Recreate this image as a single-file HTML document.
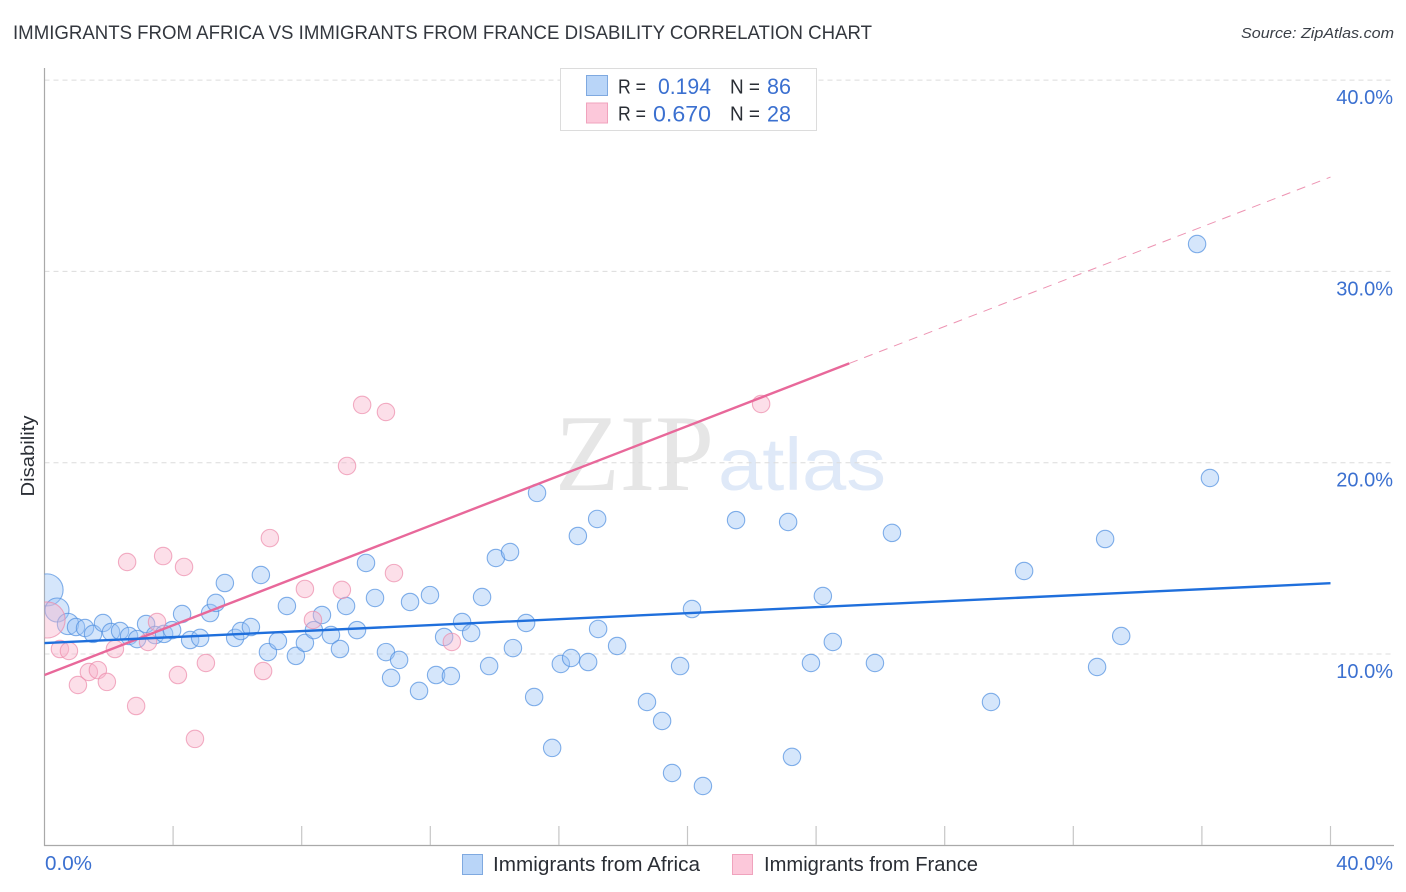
<!DOCTYPE html>
<html lang="en">
<head>
<meta charset="utf-8">
<title>Immigrants from Africa vs Immigrants from France Disability Correlation Chart</title>
<style>
html,body{margin:0;padding:0;background:#fff;width:1406px;height:892px;overflow:hidden}
svg{display:block;font-family:"Liberation Sans",sans-serif}
</style>
</head>
<body>
<svg id="chart" xmlns="http://www.w3.org/2000/svg" width="1406" height="892" viewBox="0 0 1406 892">
  <defs>
    <clipPath id="plot-clip"><rect x="44.5" y="68" width="1350" height="778"/></clipPath>
  </defs>
  <text x="13" y="39" font-size="19.5" fill="#33373e" textLength="859" lengthAdjust="spacingAndGlyphs">IMMIGRANTS FROM AFRICA VS IMMIGRANTS FROM FRANCE DISABILITY CORRELATION CHART</text>
  <text x="1241" y="38" font-size="15" font-style="italic" fill="#3a3f47" textLength="153" lengthAdjust="spacingAndGlyphs">Source: ZipAtlas.com</text>

  <g>
    <text x="555" y="490" font-family="'Liberation Serif',serif" font-size="109" fill="#e6e6e6" textLength="159" lengthAdjust="spacingAndGlyphs">ZIP</text>
    <text x="718" y="490" font-size="74" fill="#dfe9f8" textLength="168" lengthAdjust="spacingAndGlyphs">atlas</text>
  </g>

  <g id="grid"></g>
  <g id="axes"></g>
  <g id="marks" clip-path="url(#plot-clip)"></g>

  <g>
    <rect x="560.5" y="68.5" width="256" height="62" fill="#fff" stroke="#dcdcdc"/>
    <rect x="586.5" y="75.5" width="21" height="20" fill="#b9d5f8" stroke="#7fa9e0"/>
    <rect x="586.5" y="103" width="21" height="20" fill="#fcc8da" stroke="#f0a3bd"/>
    <g font-size="20" fill="#2a2e35">
      <text x="618" y="93.5" textLength="28" lengthAdjust="spacingAndGlyphs">R =</text>
      <text x="730" y="93.5" textLength="30" lengthAdjust="spacingAndGlyphs">N =</text>
      <text x="618" y="120.5" textLength="28" lengthAdjust="spacingAndGlyphs">R =</text>
      <text x="730" y="120.5" textLength="30" lengthAdjust="spacingAndGlyphs">N =</text>
    </g>
    <g font-size="22" fill="#3b70d0">
      <text x="658" y="94" textLength="53" lengthAdjust="spacingAndGlyphs">0.194</text>
      <text x="767" y="94" textLength="24" lengthAdjust="spacingAndGlyphs">86</text>
      <text x="653" y="121.5" textLength="58" lengthAdjust="spacingAndGlyphs">0.670</text>
      <text x="767" y="121.5" textLength="24" lengthAdjust="spacingAndGlyphs">28</text>
    </g>
  </g>

  <text transform="translate(34,456) rotate(-90)" font-size="18.5" fill="#2a2e35" text-anchor="middle" textLength="81" lengthAdjust="spacingAndGlyphs">Disability</text>

  <g>
    <rect x="462.5" y="854.5" width="20" height="20" fill="#b9d5f8" stroke="#7fa9e0"/>
    <text x="493" y="871" font-size="20" fill="#2a2e35" textLength="207" lengthAdjust="spacingAndGlyphs">Immigrants from Africa</text>
    <rect x="732.5" y="854.5" width="20" height="20" fill="#fcc8da" stroke="#f0a3bd"/>
    <text x="764" y="871" font-size="20" fill="#2a2e35" textLength="214" lengthAdjust="spacingAndGlyphs">Immigrants from France</text>
  </g>
</svg>

<script>
const yTicks = [10, 20, 30, 40];
const yTickLabels = ["10.0%", "20.0%", "30.0%", "40.0%"];
const xTicks = [0, 4, 8, 12, 16, 20, 24, 28, 32, 36, 40];
const xEndLabels = ["0.0%", "40.0%"];

const africaX = [0.08,0.39,0.73,0.98,1.26,1.51,1.82,2.07,2.35,2.63,2.88,3.16,3.44,3.72,3.97,4.28,4.53,4.84,5.15,5.33,5.61,5.93,6.11,6.42,6.73,6.95,7.26,7.54,7.82,8.10,8.38,8.63,8.91,9.19,9.38,9.72,10.00,10.28,10.62,10.78,11.03,11.37,11.65,11.99,12.18,12.43,12.64,12.99,13.27,13.61,13.83,14.04,14.48,14.57,14.98,15.23,15.32,15.79,16.06,16.38,16.59,16.91,17.19,17.22,17.81,18.74,19.21,19.52,19.77,20.14,20.48,21.51,23.13,23.25,23.84,24.21,24.52,25.83,26.36,29.44,30.47,32.74,32.99,33.49,35.85,36.25];
const africaY = [13.35,12.30,11.57,11.41,11.36,11.05,11.62,11.15,11.20,10.94,10.78,11.57,10.99,11.05,11.25,12.09,10.73,10.84,12.14,12.67,13.71,10.84,11.20,11.41,14.13,10.10,10.68,12.51,9.90,10.58,11.25,12.04,10.99,10.26,12.51,11.25,14.76,12.93,10.10,8.75,9.69,12.72,8.07,13.08,8.90,10.89,8.85,11.67,11.10,12.98,9.37,15.02,15.33,10.31,11.62,7.75,18.42,5.09,9.48,9.79,16.17,9.58,17.06,11.31,10.42,7.49,6.50,3.78,9.37,12.35,3.10,17.00,16.90,4.62,9.53,13.03,10.63,9.53,16.33,7.49,14.34,9.32,16.01,10.94,31.43,19.20];
const africaWeight = [3.4, 1.9, 1.5];

const franceX = [0.08,0.48,0.76,1.04,1.38,1.66,1.94,2.19,2.57,2.85,3.22,3.50,3.69,4.15,4.34,4.68,5.02,6.80,7.01,8.10,8.35,9.25,9.41,9.88,10.62,10.87,12.67,22.29];
const franceY = [11.78,10.26,10.16,8.38,9.06,9.16,8.54,10.26,14.81,7.28,10.63,11.67,15.12,8.90,14.55,5.56,9.53,9.11,16.06,13.40,11.78,13.35,19.83,23.02,22.65,14.23,10.63,23.07];
const franceWeight = [4.3];

const africaTrendX = [0, 40];
const africaTrendY = [10.57, 13.70];
const franceTrendX = [0, 25.03];
const franceTrendY = [8.90, 25.19];
const franceDashX = [25.03, 40];
const franceDashY = [25.19, 34.93];

const SVGNS = "http://www.w3.org/2000/svg";
const xScale = v => 44.5 + v * 32.15;
const yScale = v => 654 - (v - 10) * 19.13;
const BASE_R = 8.7;

function make(tag, parent, attrs, text) {
  const el = document.createElementNS(SVGNS, tag);
  for (const k in attrs) el.setAttribute(k, attrs[k]);
  if (text !== undefined) el.textContent = text;
  parent.appendChild(el);
  return el;
}

const grid = document.getElementById("grid");
const axes = document.getElementById("axes");
const marks = document.getElementById("marks");

yTicks.forEach((t, i) => {
  const line = make("line", grid, {x1: 44.5, x2: 1394, y1: yScale(t), y2: yScale(t), stroke: "#dcdcdc", "stroke-width": 1, "stroke-dasharray": "5 4"});
  
  
  const label = make("text", axes, {x: 1393, y: yScale(t) + 24, "font-size": 20, fill: "#3b70d0", "text-anchor": "end"}, yTickLabels[i]);
  
  
});

const yAxis = make("line", axes, {x1: 44.5, x2: 44.5, y1: 68, y2: 846, stroke: "#a9a9a9", "stroke-width": 1.2});


const xAxis = make("line", axes, {x1: 44, x2: 1394, y1: 845.5, y2: 845.5, stroke: "#a9a9a9", "stroke-width": 1.2});



xTicks.slice(1).forEach(t => {
  const tick = make("line", axes, {x1: xScale(t), x2: xScale(t), y1: 826, y2: 845, stroke: "#c6c6c6", "stroke-width": 1.2});
  
  
});

const xStart = make("text", axes, {x: 45, y: 870, "font-size": 20, fill: "#3b70d0", textLength: 47, lengthAdjust: "spacingAndGlyphs"}, xEndLabels[0]);


const xEnd = make("text", axes, {x: 1393, y: 870, "font-size": 20, fill: "#3b70d0", "text-anchor": "end"}, xEndLabels[1]);



africaX.forEach((x, i) => {
  const w = africaWeight[i] || 1;
  const c = make("circle", marks, {cx: xScale(x), cy: yScale(africaY[i]), r: BASE_R * Math.sqrt(w), fill: "#9cc3f5", "fill-opacity": 0.42, stroke: "#4f8fe0", "stroke-opacity": 0.7, "stroke-width": 1.1});
  
  
});

franceX.forEach((x, i) => {
  const w = franceWeight[i] || 1;
  const c = make("circle", marks, {cx: xScale(x), cy: yScale(franceY[i]), r: BASE_R * Math.sqrt(w), fill: "#f9b3ca", "fill-opacity": 0.42, stroke: "#ec8bab", "stroke-opacity": 0.7, "stroke-width": 1.1});
  
  
});

const franceDash = make("line", marks, {x1: xScale(franceDashX[0]), y1: yScale(franceDashY[0]), x2: xScale(franceDashX[1]), y2: yScale(franceDashY[1]), stroke: "#e8789f", "stroke-width": 1, "stroke-dasharray": "9 7", "stroke-opacity": 0.8});


const franceTrend = make("line", marks, {x1: xScale(franceTrendX[0]), y1: yScale(franceTrendY[0]), x2: xScale(franceTrendX[1]), y2: yScale(franceTrendY[1]), stroke: "#e8689a", "stroke-width": 2.4});


const africaTrend = make("line", marks, {x1: xScale(africaTrendX[0]), y1: yScale(africaTrendY[0]), x2: xScale(africaTrendX[1]), y2: yScale(africaTrendY[1]), stroke: "#1f6fdc", "stroke-width": 2.4});


</script>
</body>
</html>
